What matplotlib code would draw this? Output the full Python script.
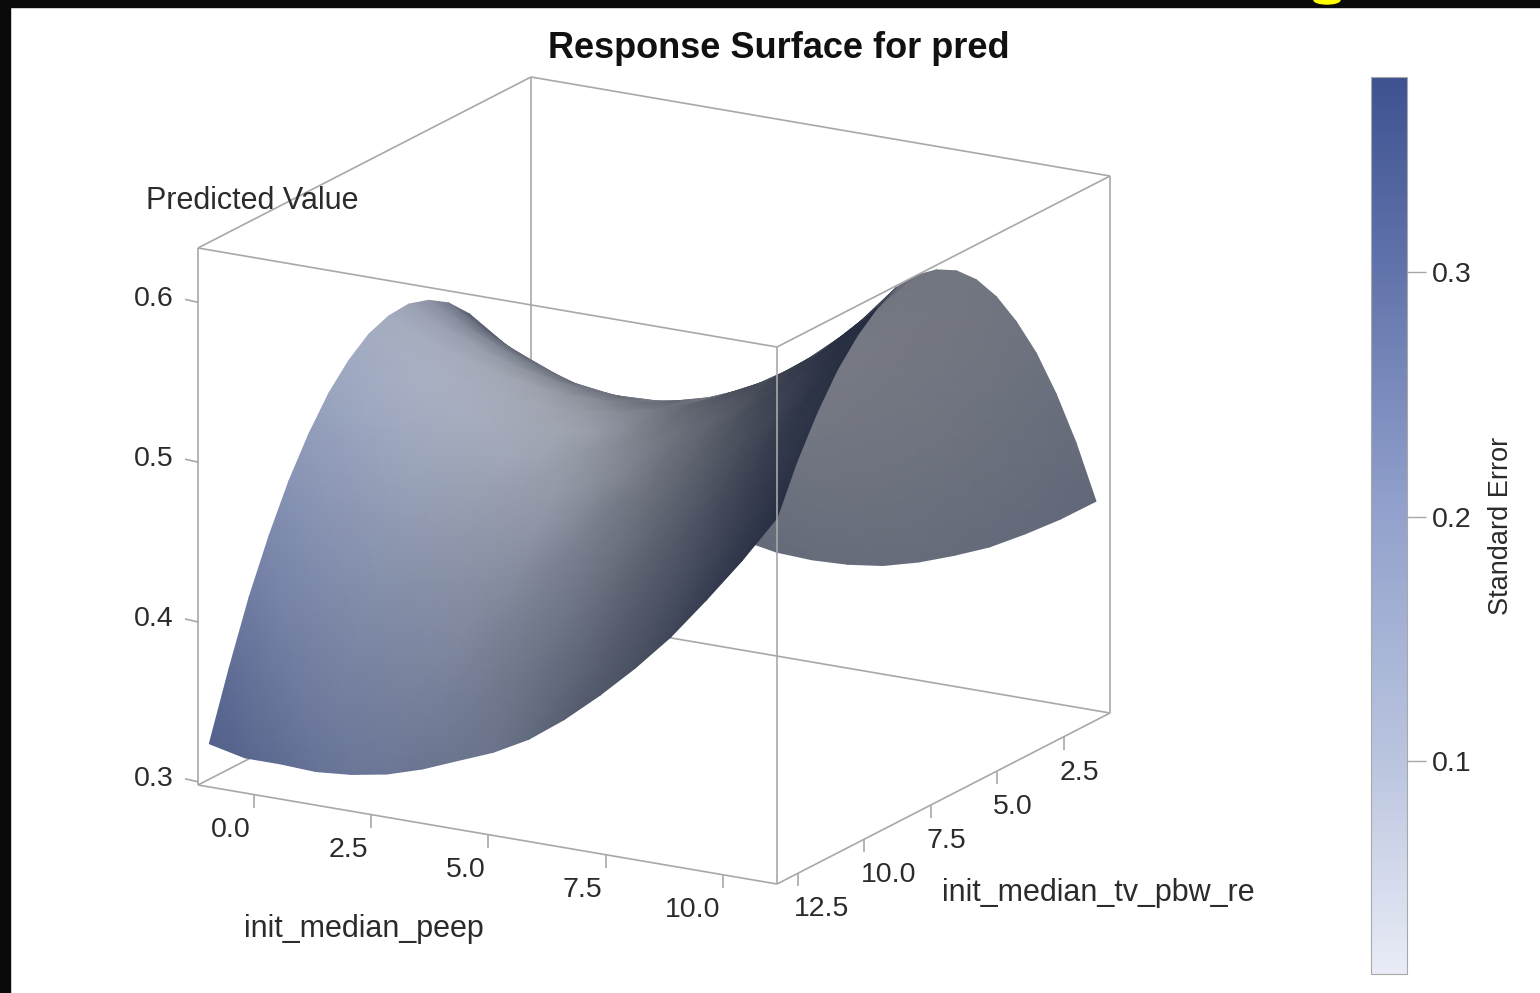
import matplotlib
matplotlib.use('Agg')
import matplotlib.pyplot as plt
import numpy as np
from matplotlib.colors import LinearSegmentedColormap, Normalize
from matplotlib.patches import Ellipse, Rectangle

plt.rcParams['font.family'] = ['Liberation Sans', 'DejaVu Sans']

W, H = 1540, 993

XLIM = (-1.19, 11.15)
YLIM = (13.29, 0.76)
ZLIM = (0.298, 0.634)
SE_LIM = (0.0127, 0.380)

x_ticks = [0.0, 2.5, 5.0, 7.5, 10.0]
y_ticks = [2.5, 5.0, 7.5, 10.0, 12.5]
z_ticks = [0.3, 0.4, 0.5, 0.6]
se_ticks = [0.1, 0.2, 0.3]

# init_median_peep (rows) and init_median_tv_pbw_re (columns)
peep = [-1.00, -0.24, 0.51, 1.27, 2.03, 2.78, 3.54, 4.29, 5.05, 5.81, 6.56, 7.32, 8.08, 8.83, 9.59, 10.34, 11.10]
tv_pbw = [1.2, 1.95, 2.7, 3.45, 4.2, 4.95, 5.7, 6.45, 7.2, 7.95, 8.7, 9.45, 10.2, 10.95, 11.7, 12.45, 13.2]

# predicted value
pred = [
    [0.444, 0.471, 0.492, 0.510, 0.523, 0.531, 0.535, 0.534, 0.529, 0.519, 0.505, 0.486, 0.463, 0.435, 0.403, 0.365, 0.324],
    [0.426, 0.454, 0.477, 0.495, 0.509, 0.519, 0.524, 0.524, 0.520, 0.511, 0.497, 0.479, 0.456, 0.429, 0.396, 0.360, 0.319],
    [0.410, 0.439, 0.464, 0.483, 0.499, 0.509, 0.515, 0.516, 0.512, 0.504, 0.491, 0.474, 0.451, 0.424, 0.393, 0.357, 0.319],
    [0.397, 0.427, 0.453, 0.474, 0.490, 0.501, 0.508, 0.510, 0.507, 0.500, 0.487, 0.470, 0.449, 0.422, 0.391, 0.356, 0.318],
    [0.386, 0.417, 0.444, 0.466, 0.483, 0.495, 0.503, 0.506, 0.504, 0.497, 0.486, 0.469, 0.448, 0.422, 0.392, 0.357, 0.320],
    [0.378, 0.410, 0.438, 0.460, 0.479, 0.492, 0.500, 0.504, 0.503, 0.497, 0.486, 0.470, 0.450, 0.425, 0.395, 0.361, 0.324],
    [0.372, 0.405, 0.433, 0.457, 0.476, 0.490, 0.500, 0.504, 0.504, 0.499, 0.488, 0.474, 0.454, 0.429, 0.400, 0.367, 0.331],
    [0.368, 0.402, 0.432, 0.456, 0.476, 0.491, 0.501, 0.506, 0.507, 0.502, 0.493, 0.479, 0.460, 0.436, 0.408, 0.375, 0.340],
    [0.367, 0.402, 0.432, 0.457, 0.478, 0.494, 0.505, 0.511, 0.512, 0.508, 0.500, 0.487, 0.468, 0.445, 0.418, 0.385, 0.349],
    [0.368, 0.404, 0.435, 0.461, 0.482, 0.499, 0.510, 0.517, 0.519, 0.516, 0.509, 0.496, 0.479, 0.457, 0.430, 0.398, 0.361],
    [0.371, 0.408, 0.440, 0.467, 0.489, 0.506, 0.518, 0.526, 0.529, 0.527, 0.520, 0.508, 0.492, 0.470, 0.444, 0.413, 0.377],
    [0.377, 0.414, 0.447, 0.474, 0.497, 0.515, 0.528, 0.537, 0.540, 0.539, 0.533, 0.522, 0.507, 0.486, 0.461, 0.431, 0.396],
    [0.385, 0.423, 0.456, 0.484, 0.508, 0.527, 0.541, 0.550, 0.554, 0.554, 0.548, 0.538, 0.524, 0.504, 0.480, 0.451, 0.417],
    [0.394, 0.433, 0.467, 0.497, 0.521, 0.540, 0.555, 0.565, 0.570, 0.570, 0.566, 0.557, 0.543, 0.524, 0.501, 0.473, 0.440],
    [0.406, 0.446, 0.481, 0.511, 0.536, 0.556, 0.571, 0.582, 0.588, 0.589, 0.586, 0.578, 0.565, 0.547, 0.525, 0.498, 0.467],
    [0.419, 0.460, 0.496, 0.527, 0.553, 0.574, 0.590, 0.601, 0.608, 0.610, 0.607, 0.600, 0.588, 0.572, 0.551, 0.525, 0.495],
    [0.434, 0.477, 0.514, 0.546, 0.572, 0.594, 0.611, 0.623, 0.630, 0.633, 0.632, 0.625, 0.614, 0.599, 0.579, 0.555, 0.526],
]

# standard error
std_err = [
    [0.141, 0.125, 0.111, 0.100, 0.091, 0.085, 0.081, 0.081, 0.094, 0.109, 0.127, 0.148, 0.170, 0.196, 0.224, 0.254, 0.287],
    [0.129, 0.113, 0.100, 0.089, 0.080, 0.074, 0.070, 0.070, 0.082, 0.096, 0.113, 0.132, 0.154, 0.178, 0.205, 0.234, 0.266],
    [0.120, 0.103, 0.090, 0.079, 0.070, 0.064, 0.060, 0.060, 0.071, 0.084, 0.099, 0.118, 0.138, 0.161, 0.187, 0.215, 0.246],
    [0.111, 0.095, 0.081, 0.070, 0.061, 0.055, 0.052, 0.051, 0.061, 0.073, 0.087, 0.104, 0.124, 0.146, 0.170, 0.197, 0.227],
    [0.103, 0.087, 0.073, 0.062, 0.053, 0.047, 0.044, 0.043, 0.052, 0.063, 0.076, 0.092, 0.110, 0.131, 0.155, 0.181, 0.209],
    [0.096, 0.080, 0.067, 0.056, 0.047, 0.041, 0.037, 0.037, 0.044, 0.054, 0.066, 0.081, 0.098, 0.118, 0.140, 0.165, 0.193],
    [0.091, 0.075, 0.061, 0.050, 0.041, 0.035, 0.032, 0.031, 0.037, 0.046, 0.057, 0.071, 0.087, 0.106, 0.127, 0.151, 0.177],
    [0.087, 0.070, 0.057, 0.046, 0.037, 0.031, 0.027, 0.027, 0.032, 0.039, 0.050, 0.062, 0.077, 0.095, 0.115, 0.138, 0.163],
    [0.083, 0.067, 0.054, 0.043, 0.034, 0.028, 0.024, 0.023, 0.027, 0.034, 0.043, 0.054, 0.068, 0.085, 0.104, 0.126, 0.150],
    [0.081, 0.065, 0.052, 0.040, 0.032, 0.026, 0.022, 0.021, 0.024, 0.029, 0.037, 0.048, 0.061, 0.076, 0.094, 0.115, 0.138],
    [0.080, 0.064, 0.051, 0.039, 0.031, 0.025, 0.021, 0.020, 0.022, 0.026, 0.033, 0.042, 0.054, 0.069, 0.086, 0.105, 0.127],
    [0.080, 0.064, 0.051, 0.040, 0.031, 0.025, 0.021, 0.020, 0.022, 0.026, 0.032, 0.041, 0.052, 0.066, 0.083, 0.102, 0.123],
    [0.082, 0.066, 0.052, 0.041, 0.032, 0.026, 0.023, 0.022, 0.023, 0.027, 0.033, 0.042, 0.054, 0.068, 0.084, 0.103, 0.125],
    [0.084, 0.068, 0.054, 0.043, 0.035, 0.029, 0.025, 0.024, 0.025, 0.029, 0.036, 0.045, 0.056, 0.070, 0.087, 0.106, 0.127],
    [0.088, 0.072, 0.058, 0.047, 0.038, 0.032, 0.029, 0.028, 0.029, 0.033, 0.039, 0.048, 0.060, 0.074, 0.090, 0.109, 0.131],
    [0.092, 0.076, 0.063, 0.052, 0.043, 0.037, 0.033, 0.032, 0.034, 0.037, 0.044, 0.053, 0.064, 0.078, 0.095, 0.114, 0.135],
    [0.098, 0.082, 0.068, 0.057, 0.049, 0.043, 0.039, 0.038, 0.039, 0.043, 0.050, 0.059, 0.070, 0.084, 0.101, 0.120, 0.141],
]

se_cmap = LinearSegmentedColormap.from_list('se', [(0, '#e9ecf7'), (0.24, '#b9c4de'), (0.51, '#93a2cd'),
                                                  (0.78, '#6274ab'), (1, '#3e5292')])
se_norm = Normalize(*SE_LIM)


def unit(values, lim):
    return (np.asarray(values) - lim[0]) / (lim[1] - lim[0])


def project(x, y, z):
    """Box coordinates to picture pixels, the view is orthographic."""
    u, v, w = unit(x, XLIM), unit(y, YLIM), unit(z, ZLIM)
    return 198 + 579 * u + 333 * v, 785 + 99 * u - 171 * v - 537 * w


def shade(z, se):
    """Colour from the standard error, dimmed by a light on the upper front left."""
    w = unit(z, ZLIM)
    dw_u = np.gradient(w, unit(peep, XLIM), axis=0)
    dw_v = np.gradient(w, unit(tv_pbw, YLIM), axis=1)
    n = np.stack([-dw_u * 563 / 668, -dw_v * 563 / 662, np.ones_like(w)], axis=-1)
    n /= np.linalg.norm(n, axis=-1, keepdims=True)
    light = np.array([0.55, -0.5, 0.67])
    view = np.array([0.48, -0.82, 0.30])
    b = np.interp(n @ light, [0.1, 0.25, 0.5, 0.7, 0.95], [0.12, 0.2, 0.47, 0.72, 0.88])
    # underside, seen on the right
    b = np.where(n @ view < 0, 0.52, b)
    rgb = se_cmap(se_norm(se))[..., :3] * b[..., None]
    rgb = rgb + (1 - b[..., None]) ** 3 * np.array([0, 0.04, 0.15])
    return np.clip(rgb, 0, 1)


fig = plt.figure(figsize=(W / 100, H / 100), dpi=100)
ax = fig.add_axes([0, 0, 1, 1])
ax.set_xlim(0, W)
ax.set_ylim(H, 0)
ax.axis('off')

box = {'color': '#a8a8a8', 'lw': 1.2, 'solid_capstyle': 'butt'}
x0, x1 = XLIM
y0, y1 = YLIM
z0, z1 = ZLIM


def edge(a, b, **kw):
    ax.plot(*project(*np.array([a, b]).T), **box, **kw)


# back edges, hidden by the surface
edge((x0, y1, z0), (x0, y1, z1), zorder=1)
edge((x0, y1, z0), (x1, y1, z0), zorder=1)
edge((x0, y1, z0), (x0, y0, z0), zorder=1)
edge((x0, y1, z1), (x1, y1, z1), zorder=1)
edge((x0, y1, z1), (x0, y0, z1), zorder=1)

# rows run towards the viewer so the mesh paints back to front
X, Y = np.meshgrid(peep, tv_pbw, indexing='ij')
Z = np.array(pred)
px, py = project(X, Y, Z)
ax.pcolormesh(px, py, shade(Z, np.array(std_err)), shading='gouraud', zorder=2)

# front edges
edge((x0, y0, z0), (x0, y0, z1), zorder=3)
edge((x1, y0, z0), (x1, y0, z1), zorder=3)
edge((x1, y1, z0), (x1, y1, z1), zorder=3)
edge((x0, y0, z0), (x1, y0, z0), zorder=3)
edge((x1, y0, z0), (x1, y1, z0), zorder=3)
edge((x0, y0, z1), (x1, y0, z1), zorder=3)
edge((x1, y0, z1), (x1, y1, z1), zorder=3)

txt = {'color': '#2b2b2b', 'fontsize': 20.5, 'va': 'center'}
for t in x_ticks:
    bx, by = project(t, y0, z0)
    ax.plot([bx, bx], [by, by + 13], **box)
    ax.text(bx - 3, by + 35, f'{t:.1f}', ha='right', **txt)
for t in y_ticks:
    bx, by = project(x1, t, z0)
    ax.plot([bx, bx], [by, by + 13], **box)
    ax.text(bx - 4, by + 36, f'{t:.1f}', ha='left', **txt)
for t in z_ticks:
    bx, by = project(x0, y0, t)
    ax.plot([bx, bx - 13], [by, by - 3], **box)
    ax.text(bx - 24, by - 3, f'{t:.1f}', ha='right', **txt)

ax.text(779, 49, 'Response Surface for pred', color='#111111', fontsize=26, fontweight='bold', ha='center', va='center')
lab = {**txt, 'fontsize': 22, 'ha': 'center'}
ax.text(252, 201, 'Predicted Value', **lab)
ax.text(364, 929, 'init_median_peep', **lab)
ax.text(1098, 893, 'init_median_tv_pbw_re', **lab)

# black screenshot frame
ax.add_patch(Rectangle((0, 0), W, 7, color='#0a0a0a', zorder=5))
ax.add_patch(Rectangle((0, 0), 10, H, color='#0a0a0a', zorder=5))
ax.add_patch(Ellipse((1327, 0), 26, 8, color='#ffff00', zorder=6))

cax = fig.add_axes([1371 / W, 1 - 974 / H, 36 / W, 897 / H])
cb = fig.colorbar(plt.cm.ScalarMappable(norm=se_norm, cmap=se_cmap), cax=cax)
cb.set_ticks(se_ticks)
cb.ax.tick_params(length=14, width=1, color='#a8a8a8', labelsize=20.5, labelcolor='#2b2b2b', pad=4)
cb.outline.set_edgecolor('#a8a8a8')
cb.set_label('Standard Error', fontsize=19.5, color='#2b2b2b', labelpad=12)

fig.savefig('out.png', dpi=100)
